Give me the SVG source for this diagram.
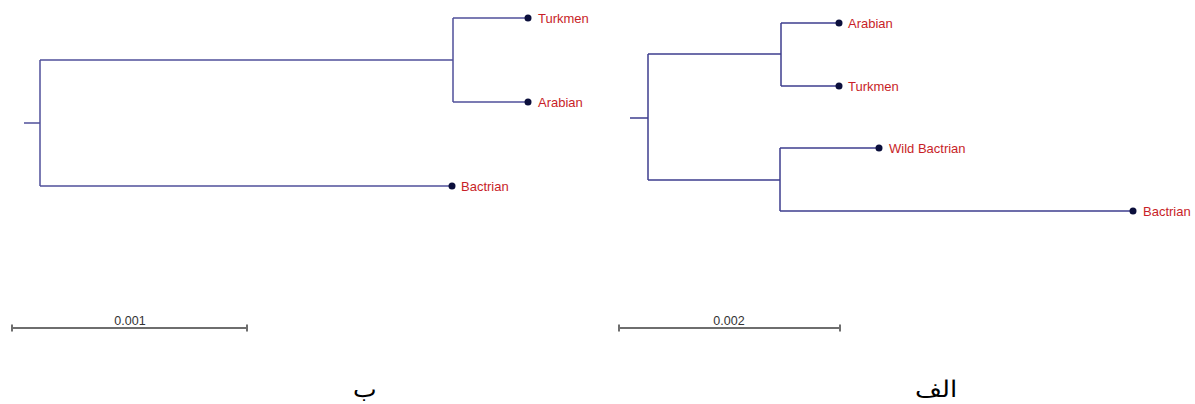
<svg xmlns="http://www.w3.org/2000/svg" width="1195" height="404" viewBox="0 0 1195 404">
<style>
.br{fill:none;stroke:#50509a;stroke-width:1.5}
.br2{fill:none;stroke:#3e3e8e;stroke-width:1.5}
.dot{fill:#0b0f3c}
.lab{font-family:"Liberation Sans",Arial,sans-serif;font-size:13px;fill:#c81e28}
.sc{fill:none;stroke:#6e6e6e;stroke-width:2}
.sct{font-family:"Liberation Sans",Arial,sans-serif;font-size:12.5px;fill:#333;text-anchor:middle}
.ar{font-family:"DejaVu Serif","Noto Sans",serif;font-size:23px;fill:#000}
</style>
<rect width="1195" height="404" fill="#fff"/>
<g id="connectors">
<path class="br" d="M24 123H40M40 60V186M40 60H453M453 18V102M453 18H528M453 102H528M40 186H452"/>
<path class="br2" d="M630 118H648M648 54V180M648 54H781M781 23V86M781 23H839M781 86H839M648 180H780M780 148V211M780 148H879M780 211H1133"/>
</g>
<g id="b-turkmen"><circle class="dot" cx="528" cy="18" r="3.5"/><text class="lab" x="538" y="22.5">Turkmen</text></g>
<g id="b-arabian"><circle class="dot" cx="528" cy="102" r="3.5"/><text class="lab" x="538" y="106.5">Arabian</text></g>
<g id="b-bactrian"><circle class="dot" cx="452" cy="186" r="3.5"/><text class="lab" x="461" y="190.5">Bactrian</text></g>
<g id="a-arabian"><circle class="dot" cx="839" cy="23" r="3.5"/><text class="lab" x="848" y="27.5">Arabian</text></g>
<g id="a-turkmen"><circle class="dot" cx="839" cy="86" r="3.5"/><text class="lab" x="848" y="90.5">Turkmen</text></g>
<g id="a-wild"><circle class="dot" cx="879" cy="148" r="3.5"/><text class="lab" x="889" y="152.5">Wild Bactrian</text></g>
<g id="a-bactrian"><circle class="dot" cx="1133" cy="211" r="3.5"/><text class="lab" x="1143" y="215.5">Bactrian</text></g>
<g id="scale-b"><path class="sc" d="M12 328H247M12 324.5V331.5M247 324.5V331.5"/><text class="sct" x="130" y="325">0.001</text></g>
<g id="scale-a"><path class="sc" d="M619 328H840M619 324.5V331.5M840 324.5V331.5"/><text class="sct" x="729" y="325">0.002</text></g>
<g id="label-b"><text class="ar" x="353" y="397" textLength="24" lengthAdjust="spacingAndGlyphs">ب</text></g>
<g id="label-a"><text class="ar" x="915" y="397" textLength="42" lengthAdjust="spacingAndGlyphs">الف</text></g>
</svg>
